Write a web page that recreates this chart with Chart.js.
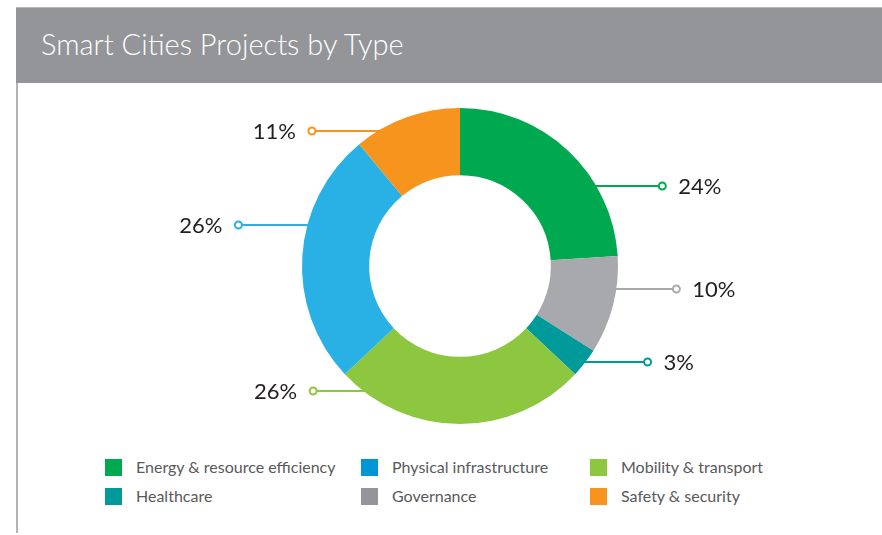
<!DOCTYPE html>
<html>
<head>
<meta charset="utf-8">
<script src="https://cdn.jsdelivr.net/npm/chart.js@4.4.1/dist/chart.umd.min.js"></script>
<style>
  html, body { margin: 0; padding: 0; background: #fff; }
  body { width: 882px; height: 535px; position: relative; overflow: hidden; font-family: "Lato", "Noto Sans", sans-serif; }
  .header { position: absolute; left: 16px; top: 7px; width: 866px; height: 76px; background: #939598; border-top: 1px solid #b7b8ba; box-sizing: border-box; }
  .header h1 { margin: 0; position: absolute; left: 25px; top: 18px; color: #fff; font-weight: 300; font-size: 29px; line-height: 36px; }
  .side { position: absolute; left: 16px; top: 83px; width: 2px; height: 450px; background: #b1b3b6; }
  #wrap { position: absolute; left: 0; top: 100px; width: 882px; height: 332px; }
  .legend { position: absolute; left: 0; top: 0; width: 882px; }
  .item { position: absolute; height: 17px; font-size: 16px; color: #58595b; line-height: 17px; white-space: nowrap; }
  .item span.box { position: absolute; left: 0; top: 0; width: 17px; height: 17px; }
  .item span.txt { position: absolute; left: 31px; top: -1px; }
</style>
</head>
<body>
<div class="header"><h1>Smart Cities Projects by Type</h1></div>
<div class="side"></div>
<div id="wrap"><canvas id="donut"></canvas></div>
<div class="legend" id="legend"></div>
<script>
// categories in slice order (clockwise from top)
const categories = [
  'Energy & resource efficiency',
  'Governance',
  'Healthcare',
  'Mobility & transport',
  'Physical infrastructure',
  'Safety & security'
];
const shares = [24, 10, 3, 26, 26, 11];
const sliceColors = ['#00a94f', '#a7a9ac', '#009a9a', '#8dc63f', '#29b1e6', '#f7941d'];

// legend order (rows of three) and its swatch colours
const legendOrder = [
  'Energy & resource efficiency', 'Physical infrastructure', 'Mobility & transport',
  'Healthcare', 'Governance', 'Safety & security'
];
const legendColors = {
  'Energy & resource efficiency': '#00a94f',
  'Physical infrastructure': '#0096d6',
  'Mobility & transport': '#8dc63f',
  'Healthcare': '#009a9a',
  'Governance': '#939598',
  'Safety & security': '#f7941d'
};

// where each leader line leaves its slice (fraction of the slice) and how long it is
const leaderAt = [0.69, 0.33, 0.46, 0.904, 0.622, 0.21];
const leaderLen = [66, 60, 62, 50, 69, 66];

const leaderPlugin = {
  id: 'leaders',
  afterDatasetsDraw(chart) {
    const ctx = chart.ctx;
    const meta = chart.getDatasetMeta(0);
    meta.data.forEach((arc, i) => {
      const p = arc.getProps(['x', 'y', 'startAngle', 'endAngle', 'outerRadius'], true);
      const a = p.startAngle + leaderAt[i] * (p.endAngle - p.startAngle);
      const sx = p.x + Math.cos(a) * p.outerRadius;
      const sy = Math.round(p.y + Math.sin(a) * p.outerRadius);
      const dir = Math.cos(a) >= 0 ? 1 : -1;
      const ex = sx + dir * leaderLen[i];
      ctx.save();
      ctx.strokeStyle = sliceColors[i];
      ctx.lineWidth = 2;
      ctx.beginPath();
      ctx.moveTo(sx - dir * 3, sy);
      ctx.lineTo(ex, sy);
      ctx.stroke();
      ctx.beginPath();
      ctx.arc(ex, sy, 3.5, 0, Math.PI * 2);
      ctx.fillStyle = '#fff';
      ctx.fill();
      ctx.stroke();
      ctx.fillStyle = '#231f20';
      ctx.font = '22px Lato, "Noto Sans", sans-serif';
      ctx.textBaseline = 'middle';
      ctx.textAlign = dir > 0 ? 'left' : 'right';
      ctx.fillText(shares[i] + '%', ex + dir * 16, sy + 1);
      ctx.restore();
    });
  }
};

new Chart(document.getElementById('donut'), {
  type: 'doughnut',
  data: {
    labels: categories,
    datasets: [{
      data: shares,
      backgroundColor: sliceColors,
      borderWidth: 0,
      hoverOffset: 0
    }]
  },
  options: {
    responsive: true,
    maintainAspectRatio: false,
    animation: false,
    cutout: '57.5%',
    layout: { padding: { left: 38, top: 8, bottom: 8 } },
    plugins: {
      legend: { display: false },
      tooltip: { enabled: false }
    }
  },
  plugins: [leaderPlugin]
});

// html legend, three columns
const colX = [105, 361, 590];
const rowY = [459, 488];
const legend = document.getElementById('legend');
legendOrder.forEach((name, i) => {
  const d = document.createElement('div');
  d.className = 'item';
  d.style.left = colX[i % 3] + 'px';
  d.style.top = rowY[Math.floor(i / 3)] + 'px';
  d.innerHTML = '<span class="box" style="background:' + legendColors[name] + '"></span><span class="txt">' +
    name.replace(/&/g, '&amp;') + '</span>';
  legend.appendChild(d);
});
</script>
</body>
</html>
